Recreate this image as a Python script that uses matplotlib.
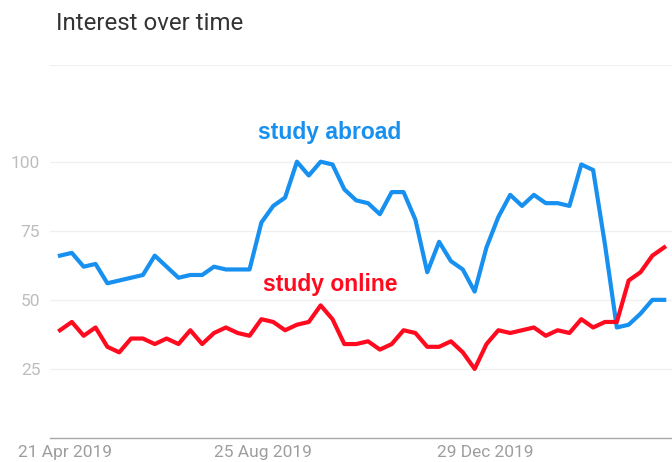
import numpy as np
import pandas as pd
import matplotlib
matplotlib.use('Agg')
import matplotlib.pyplot as plt
import matplotlib.dates as mdates

# weekly Google Trends interest, 21 Apr 2019 onwards
weeks = pd.date_range("2019-04-21", periods=52, freq="7D")

study_abroad = [66, 67, 62, 63, 56, 57, 58, 59, 66, 62, 58, 59, 59, 62, 61, 61, 61,
                78, 84, 87, 100, 95, 100, 99, 90, 86, 85, 81, 89, 89, 79, 60, 71,
                64, 61, 53, 69, 80, 88, 84, 88, 85, 85, 84, 99, 97, 70, 40, 41,
                45, 50, 50]
study_online = [39, 42, 37, 40, 33, 31, 36, 36, 34, 36, 34, 39, 34, 38, 40, 38, 37,
                43, 42, 39, 41, 42, 48, 43, 34, 34, 35, 32, 34, 39, 38, 33, 33,
                35, 31, 25, 34, 39, 38, 39, 40, 37, 39, 38, 43, 40, 42, 42, 57,
                60, 66, 69]

ytick_vals = [25, 50, 75, 100]
xtick_labels = ["21 Apr 2019", "25 Aug 2019", "29 Dec 2019"]
# label centres as placed on the original chart (days after first week)
xtick_days = [3, 120, 251]

blue = "#1790f0"
red = "#ff0a1e"

fig = plt.figure(figsize=(6.72, 4.62), dpi=100)
ax = fig.add_axes([50/672, 1-438/462, 1-50/672, (438-65)/462])

ax.plot(weeks, study_abroad, color=blue, lw=3.0, solid_joinstyle="round", zorder=3)
ax.plot(weeks, study_online, color=red, lw=3.0, solid_joinstyle="round", zorder=4)

ax.set_ylim(0, 135)
ax.set_xlim(weeks[0] - pd.Timedelta(days=5.9), weeks[-1] + pd.Timedelta(days=4.6))

for v in ytick_vals + [135]:
    ax.axhline(v, color="#f0f0f0", lw=1, zorder=1)

ax.set_yticks(ytick_vals)
ax.set_yticklabels([str(v) for v in ytick_vals], fontfamily="Roboto",
                   fontsize=12.5, color="#bdbdbd")
ax.set_xticks([mdates.date2num(weeks[0] + pd.Timedelta(days=d)) for d in xtick_days])
ax.set_xticklabels(xtick_labels, fontfamily="Roboto", fontsize=12.5, color="#9e9e9e")
ax.tick_params(axis="y", length=0, pad=7)
ax.tick_params(axis="x", length=0, pad=5)

for s in ["top", "right", "left"]:
    ax.spines[s].set_visible(False)
ax.spines["bottom"].set_color("#a8a8a8")
ax.spines["bottom"].set_linewidth(1)

ax.text(weeks[0] + pd.Timedelta(weeks=22.8), 110.5, "study abroad", color=blue,
        fontfamily="Liberation Sans", fontweight="bold", fontsize=16.5,
        ha="center", va="center")
ax.text(weeks[0] + pd.Timedelta(weeks=22.8), 55.6, "study online", color=red,
        fontfamily="Liberation Sans", fontweight="bold", fontsize=16.5,
        ha="center", va="center")

fig.text(56/672, 1-23/462, "Interest over time", fontfamily="Roboto",
         fontsize=17.3, color="#333333", ha="left", va="center")

fig.savefig("out.png", dpi=100)
